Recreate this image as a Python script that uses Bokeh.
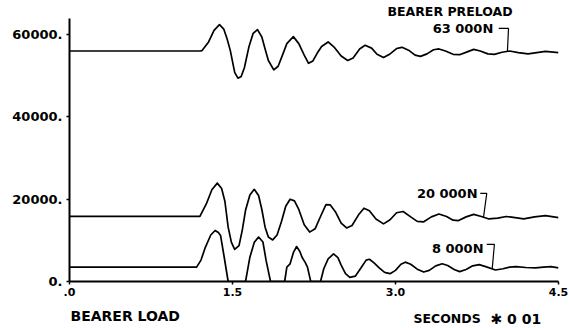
from bokeh.plotting import figure
from bokeh.models import Range1d, FixedTicker, Label
from bokeh.layouts import column
from bokeh.embed import file_html
from bokeh.resources import INLINE
import numpy as np

# ---- data (time in seconds*0.01, load in N) ----
top_x = [0, 1.20, 1.22, 1.28, 1.33, 1.38, 1.42, 1.45, 1.48, 1.52, 1.55, 1.58, 1.61, 1.65,
         1.69, 1.73, 1.77, 1.80, 1.83, 1.88, 1.92, 1.96, 2.00, 2.06, 2.11, 2.16, 2.20,
         2.24, 2.28, 2.32, 2.38, 2.44, 2.50, 2.56, 2.61, 2.67, 2.72, 2.78, 2.83, 2.89,
         2.95, 3.01, 3.06, 3.12, 3.18, 3.23, 3.29, 3.35, 3.40, 3.46, 3.53, 3.59, 3.66,
         3.72, 3.78, 3.85, 3.91, 3.98, 4.05, 4.13, 4.22, 4.30, 4.38, 4.50]
top_y = [56000, 56000, 56100, 58200, 61000, 62400, 61300, 59000, 56100, 50800, 49400,
         49800, 52000, 56900, 60300, 61200, 59400, 56500, 53700, 51400, 52300, 55000,
         57800, 59500, 57800, 55000, 53000, 53600, 55500, 57100, 58200, 56800, 54800,
         53700, 54300, 56500, 57400, 56700, 55200, 54400, 55300, 56600, 56900, 56200,
         55000, 54700, 55300, 56300, 56500, 56000, 55200, 55100, 55800, 56400, 56000,
         55300, 55200, 55700, 56000, 55600, 55300, 55600, 55900, 55600]

mid_x = [0, 1.20, 1.26, 1.31, 1.36, 1.40, 1.43, 1.46, 1.49, 1.52, 1.56, 1.59, 1.62, 1.66,
         1.70, 1.74, 1.77, 1.80, 1.83, 1.87, 1.91, 1.95, 1.99, 2.03, 2.07, 2.11, 2.16,
         2.21, 2.26, 2.31, 2.36, 2.40, 2.45, 2.50, 2.55, 2.60, 2.66, 2.71, 2.76, 2.82,
         2.89, 2.95, 3.01, 3.07, 3.14, 3.20, 3.26, 3.33, 3.40, 3.47, 3.53, 3.58, 3.65,
         3.72, 3.79, 3.86, 3.94, 4.02, 4.10, 4.18, 4.28, 4.38, 4.50]
mid_y = [15800, 15800, 18900, 22300, 23900, 22600, 19500, 13200, 9500, 7800, 8700, 12500,
         17300, 21000, 22400, 20900, 17500, 13200, 10800, 10100, 11300, 14500, 18300,
         20000, 19600, 17500, 13800, 12000, 12800, 15800, 18700, 18600, 16800, 14200,
         13000, 13600, 16200, 17800, 17200, 15200, 14000, 15000, 16700, 17000, 15700,
         14600, 14500, 15700, 16400, 15800, 14900, 14800, 15700, 16300, 15800, 15200,
         15400, 15800, 15500, 15200, 15700, 16000, 15500]

low_x = [0, 1.17, 1.21, 1.25, 1.30, 1.34, 1.37, 1.39, 1.42, 1.46, 1.62, 1.66, 1.70, 1.74,
         1.78, 1.81, 1.85, 1.98, 2.00, 2.03, 2.06, 2.09, 2.12, 2.14, 2.17, 2.19, 2.22,
         2.31, 2.34, 2.38, 2.43, 2.47, 2.50, 2.54, 2.58, 2.63, 2.68, 2.73, 2.76, 2.80,
         2.85, 2.90, 2.95, 3.00, 3.05, 3.09, 3.14, 3.20, 3.26, 3.31, 3.37, 3.43, 3.48,
         3.54, 3.59, 3.65, 3.71, 3.77, 3.83, 3.92, 3.99, 4.05, 4.11, 4.20, 4.29, 4.36,
         4.43, 4.50]
low_y = [3500, 3500, 5200, 8300, 11300, 12400, 11900, 11200, 6500, 0, 0, 5900, 9500,
         10800, 9600, 5000, 0, 0, 3500, 4300, 7000, 8500, 7300, 5900, 4600, 3500, 0, 0,
         3100, 5500, 6700, 5800, 4000, 1900, 1000, 1300, 3200, 5200, 5400, 4600, 3300,
         2200, 1900, 2700, 4200, 4700, 4200, 3000, 2300, 2700, 3800, 4300, 3900, 2900,
         2400, 2900, 3800, 4100, 3600, 2800, 3100, 3500, 3600, 3400, 3300, 3500, 3600,
         3300]

x_ticks = [0, 1.5, 3.0, 4.5]
x_tick_labels = [".0", "1.5", "3.0", "4.5"]
y_ticks = [0, 20000, 40000, 60000]
y_tick_labels = ["0.", "20000.", "40000.", "60000."]

series_labels = ["63 000N", "20 000N", "8 000N"]
title_text = "BEARER PRELOAD"
y_title = "BEARER LOAD"
x_title = "SECONDS"
x_scale = "✱ 0 01"

FONT = "DejaVu Sans"
W = 569
LEFT, RIGHT = 69, 11
HEAD_H, FOOT_H = 18, 25
MAIN_H = 328 - HEAD_H - FOOT_H


def strip(h):
    # strip whose frame lines up with the main frame; range in canvas pixels
    f = figure(width=W, height=h, output_backend="svg", toolbar_location=None,
               x_range=Range1d(LEFT, W - RIGHT), y_range=Range1d(h, 0),
               min_border_left=LEFT, min_border_right=RIGHT,
               min_border_top=0, min_border_bottom=0,
               x_axis_type=None, y_axis_type=None)
    f.outline_line_color = None
    f.grid.visible = False
    return f


def add_label(fig, x, y, text, align="left", size="13px"):
    fig.add_layout(Label(x=x, y=y, text=text, text_font=FONT, text_font_style="bold",
                         text_font_size=size, text_align=align, text_baseline="middle",
                         text_color="black"))


head = strip(HEAD_H)
add_label(head, 387, 10.5, title_text, size="12.5px")

p = figure(width=W, height=MAIN_H, output_backend="svg", toolbar_location=None,
           x_range=Range1d(0, 4.5), y_range=Range1d(0, 63900),
           min_border_left=LEFT, min_border_right=RIGHT, min_border_top=0,
           min_border_bottom=22)
p.outline_line_color = None
p.grid.visible = False

for xs, ys in [(top_x, top_y), (mid_x, mid_y), (low_x, low_y)]:
    p.line(xs, ys, line_color="black", line_width=1.7, line_join="round")

p.xaxis.ticker = FixedTicker(ticks=x_ticks)
p.xaxis.major_label_overrides = {t: l for t, l in zip(x_ticks, x_tick_labels)}
p.yaxis.ticker = FixedTicker(ticks=y_ticks)
p.yaxis.major_label_overrides = {t: l for t, l in zip(y_ticks, y_tick_labels)}
for ax in (p.xaxis, p.yaxis):
    ax.axis_line_width = 2
    ax.axis_line_color = "black"
    ax.major_tick_out = 3
    ax.major_tick_in = 0
    ax.major_tick_line_width = 1.5
    ax.minor_tick_out = 0
    ax.minor_tick_in = 0
    ax.major_label_text_font = FONT
    ax.major_label_text_font_style = "bold"
    ax.major_label_text_color = "black"
p.yaxis.major_label_text_font_size = "13px"
p.yaxis.major_label_standoff = 4
p.xaxis.major_label_text_font_size = "11px"
p.xaxis.major_label_standoff = 3

# series labels with leader lines (positions in data units)
lab_pos = [(3.90, 61500), (3.755, 21400), (3.81, 8000)]
leader = [(3.95, 4.04, 4.03, 61500), (3.78, 3.84, 3.81, 21400), (3.84, 3.91, 3.89, 9000)]
curves = [(top_x, top_y), (mid_x, mid_y), (low_x, low_y)]
for (lx, ly), txt, (a, b, c, yy), (cx, cy) in zip(lab_pos, series_labels, leader, curves):
    add_label(p, lx, ly, txt, align="right")
    yc = float(np.interp(c, cx, cy))
    p.line([a, b, c], [yy, yy, yc], line_color="black", line_width=1.2)

foot = strip(FOOT_H)
add_label(foot, 70, 12, y_title, size="14px")
add_label(foot, 413, 15, x_title, size="12.5px")
add_label(foot, 490, 15, x_scale, size="14px")

layout = column(head, p, foot, spacing=0)
open("out.html", "w").write(file_html(layout, INLINE))
